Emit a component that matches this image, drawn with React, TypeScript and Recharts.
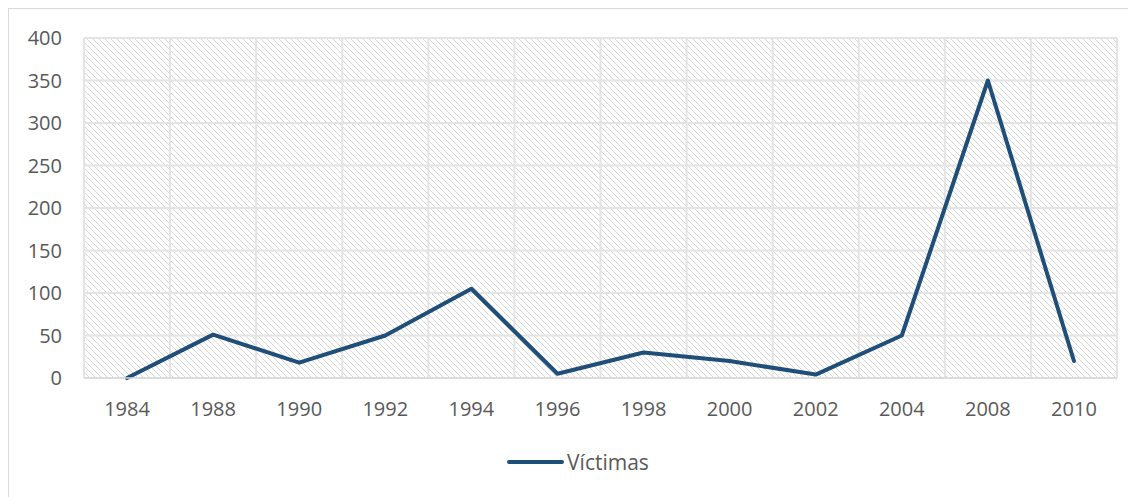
import { LineChart, Line, XAxis, YAxis, CartesianGrid, Legend } from "recharts"

const years = ["1984", "1988", "1990", "1992", "1994", "1996", "1998", "2000", "2002", "2004", "2008", "2010"]
const victimas = [0, 51, 18, 50, 105, 5, 30, 20, 4, 50, 350, 20]
const yTicks = [0, 50, 100, 150, 200, 250, 300, 350, 400]

const data = years.map((year, i) => ({ i, year, victimas: victimas[i] }))
const centerTicks = years.map((_, i) => i)
const boundaryTicks = [...years.map((_, i) => i - 0.5), years.length - 0.5]
const xDomain = [-0.5, years.length - 0.5]

const LINE_COLOR = "#1f4e79"
const TEXT_COLOR = "#595959"
const FONT = "'Open Sans', sans-serif"

const tickStyle = { fontSize: 20, fill: TEXT_COLOR, fontFamily: FONT }

function yearLabel(v: number): string {
  return years[v] ?? ""
}

function LegendContent() {
  return (
    <div style={{ display: "flex", justifyContent: "center", alignItems: "center", fontFamily: FONT, fontSize: 21, color: TEXT_COLOR, paddingLeft: 30 }}>
      <span style={{ display: "inline-block", width: 57, height: 4, borderRadius: 2, background: LINE_COLOR, marginRight: 3 }} />
      <span>Víctimas</span>
    </div>
  )
}

export default function App() {
  return (
    <div style={{ border: "1px solid #d9d9d9", width: 1140, height: 500 }}>
      <LineChart width={1130} height={488} data={data} margin={{ top: 29, right: 22, left: 0, bottom: 41 }}>
        <defs>
          <pattern id="hatch" patternUnits="userSpaceOnUse" width="6" height="6">
            <rect width="6" height="6" fill="#ffffff" />
            <path d="M-1,-1 L7,7 M-1,5 L1,7 M5,-1 L7,1" stroke="#d6d6d6" strokeWidth="1" />
          </pattern>
        </defs>
        <CartesianGrid xAxisId="grid" fill="url(#hatch)" stroke="#e4e4e4" strokeWidth={2} />
        <XAxis
          xAxisId="grid"
          type="number"
          dataKey="i"
          domain={xDomain}
          ticks={boundaryTicks}
          allowDataOverflow
          hide
        />
        <XAxis
          type="number"
          dataKey="i"
          domain={xDomain}
          ticks={centerTicks}
          interval={0}
          allowDataOverflow
          tickFormatter={yearLabel}
          tick={tickStyle}
          tickLine={false}
          tickSize={0}
          tickMargin={24}
          height={50}
          axisLine={{ stroke: "#d9d9d9", strokeWidth: 1.5 }}
        />
        <YAxis
          domain={[0, 400]}
          ticks={yTicks}
          width={75}
          tick={tickStyle}
          tickLine={false}
          axisLine={false}
          tickSize={0}
          tickMargin={22}
        />
        <Legend verticalAlign="bottom" content={LegendContent} wrapperStyle={{ bottom: 21 }} />
        <Line
          type="linear"
          dataKey="victimas"
          name="Víctimas"
          stroke={LINE_COLOR}
          strokeWidth={4}
          strokeLinecap="round"
          strokeLinejoin="round"
          dot={false}
          activeDot={false}
          isAnimationActive={false}
        />
      </LineChart>
    </div>
  )
}
